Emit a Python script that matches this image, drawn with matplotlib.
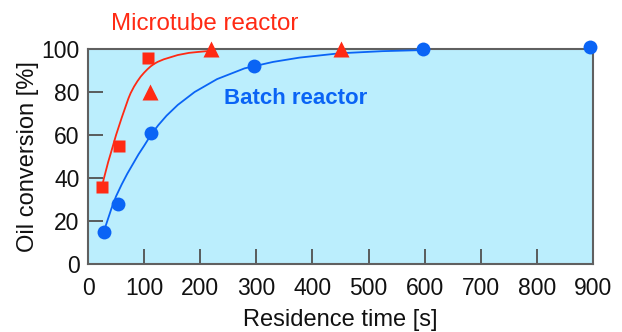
import matplotlib
matplotlib.use("Agg")
import matplotlib.pyplot as plt

plt.rcParams['font.family'] = ['Liberation Sans', 'DejaVu Sans']

# Microtube reactor data
micro_sq_t = [25, 55, 107]
micro_sq_y = [36, 55, 96]
micro_tri_t = [110, 220, 450]
micro_tri_y = [80, 100, 100]
# Batch reactor data
batch_t = [29, 54, 112, 296, 597, 895]
batch_y = [15, 28, 61, 92, 100, 101]

# Fitted curves
micro_fit_t = [25, 28, 32, 36, 40, 45, 50, 55, 60, 64, 68, 72, 76, 82, 88, 94, 100, 106, 112, 118, 124, 135, 145, 160, 180, 195, 212]
micro_fit_y = [36, 39.5, 43.5, 47.5, 51, 55.5, 60, 64, 68, 71, 74, 77, 79.5, 82.5, 85, 87.2, 89, 90.6, 92, 93.1, 94, 95.2, 96, 97.2, 98.2, 98.6, 99]
batch_fit_t = [28, 35, 42, 50, 60, 70, 80, 90, 100, 112, 125, 140, 160, 190, 230, 279, 330, 377, 448, 525, 597]
batch_fit_y = [15, 20.5, 26, 31.5, 37, 42, 46.5, 51, 55, 60, 64.5, 69, 74, 80, 86, 91, 94, 96, 98, 99, 99.5]

x_ticks = [0, 100, 200, 300, 400, 500, 600, 700, 800, 900]
y_ticks = [0, 20, 40, 60, 80, 100]

RED = '#FF2A14'
BLUE = '#0A64F5'

fig = plt.figure(figsize=(6.22, 3.32), dpi=100)
ax = fig.add_axes([0.1415, 0.2048, 0.8119, 0.6476])
ax.set_facecolor('#BBEEFD')

ax.plot(micro_fit_t, micro_fit_y, color=RED, lw=1.3, zorder=3)
ax.plot(batch_fit_t, batch_fit_y, color=BLUE, lw=1.3, zorder=3)

ax.plot(micro_sq_t, micro_sq_y, 's', color=RED, ms=9, mec='none', clip_on=False, zorder=4)
ax.plot(micro_tri_t, micro_tri_y, '^', color=RED, ms=12, mec='none', clip_on=False, zorder=4)
ax.plot(batch_t, batch_y, 'o', color=BLUE, ms=10, mec='none', clip_on=False, zorder=4)

ax.set_xlim(0, 900)
ax.set_ylim(0, 100)
ax.set_xticks(x_ticks)
ax.set_yticks(y_ticks)
ax.tick_params(direction='in', length=11, width=1.3, color='#505050',
               labelsize=16.5, pad=6, labelcolor='#111111')
ax.tick_params(axis='x', pad=9)

for s in ax.spines.values():
    s.set_color('#606060')
    s.set_linewidth(1.5)

ax.set_xlabel('Residence time [s]', fontsize=17, color='#111111', labelpad=7)
ax.set_ylabel('Oil conversion [%]', fontsize=17, color='#111111', labelpad=2)

ax.text(41, 111.5, 'Microtube reactor', color=RED, fontsize=17.4,
        ha='left', va='center', clip_on=False)
ax.text(243, 77, 'Batch reactor', color=BLUE, fontsize=16, fontweight='bold',
        ha='left', va='center')

fig.savefig('out.png', dpi=100)
